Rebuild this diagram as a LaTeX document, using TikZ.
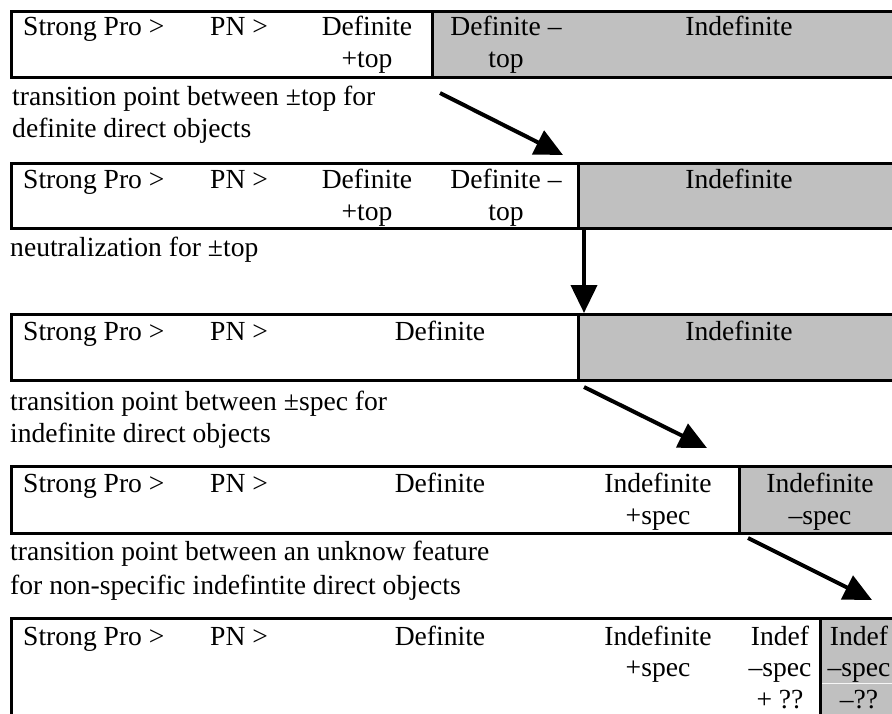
\documentclass[tikz,border=0pt]{standalone}
\usepackage{fontspec}
\setmainfont{Liberation Serif}
\usetikzlibrary{arrows.meta}
\definecolor{cellgrey}{HTML}{C0C0C0}
\tikzset{
  rowbox/.style={draw=black, line width=3pt},
  txt/.style={anchor=base, inner sep=0pt, font=\fontsize{27.6}{32}\selectfont},
  note/.style={txt, anchor=base west},
  shiftarrow/.style={-{Triangle[length=28pt,width=26pt]}, line width=4pt}
}

\begin{document}
\begin{tikzpicture}[x=1pt,y=-1pt]
  \useasboundingbox (0,0) rectangle (892,713);
  \clip (0,0) rectangle (892,713);

  % Grey cells
  \fill[cellgrey] (432,11) rectangle (900,77);
  \fill[cellgrey] (578,163) rectangle (900,228);
  \fill[cellgrey] (578,314) rectangle (900,380);
  \fill[cellgrey] (739,466) rectangle (900,533);
  \fill[cellgrey] (820,618) rectangle (900,730);
  \draw[white!85!cellgrey, line width=1pt] (820,683) -- (900,683);

  % Row frames and splits
  \foreach \top/\bot/\split in {11/77/432, 163/228/578, 314/380/578, 466/533/739, 618/730/820} {
    \draw[rowbox] (11.5,\top) rectangle (900,\bot);
    \draw[rowbox] (\split,\top) -- (\split,\bot);
  }

  % Left part of every row
  \foreach \r/\b in {1/35, 2/188, 3/340, 4/492, 5/645} {
    \node[note] (sp\r) at (23,\b) {Strong Pro >};
    \node[note] (pn\r) at (210,\b) {PN >};
  }

  % Row 1
  \node[txt] (def1) at (367,35) {Definite};
  \node[txt] (deft1) at (367,67) {+top};
  \node[txt] (defm1) at (506,35) {Definite –};
  \node[txt] (defmt1) at (506,67) {top};
  \node[txt] (ind1) at (739,35) {Indefinite};
  \node[note] (cap1a) at (12,105) {transition point between ±top for};
  \node[note] (cap1b) at (12,137) {definite direct objects};

  % Row 2
  \node[txt] (def2) at (367,188) {Definite};
  \node[txt] (deft2) at (367,220) {+top};
  \node[txt] (defm2) at (506,188) {Definite –};
  \node[txt] (defmt2) at (506,220) {top};
  \node[txt] (ind2) at (739,188) {Indefinite};
  \node[note] (cap2) at (10,256) {neutralization for ±top};

  % Row 3
  \node[txt] (def3) at (440,340) {Definite};
  \node[txt] (ind3) at (739,340) {Indefinite};
  \node[note] (cap3a) at (10,410) {transition point between ±spec for};
  \node[note] (cap3b) at (10,442) {indefinite direct objects};

  % Row 4
  \node[txt] (def4) at (440,492) {Definite};
  \node[txt] (inp4) at (658,492) {Indefinite};
  \node[txt] (inpt4) at (658,524) {+spec};
  \node[txt] (inm4) at (820,492) {Indefinite};
  \node[txt] (inmt4) at (820,524) {–spec};
  \node[note] (cap4a) at (10,560) {transition point between an unknow feature};
  \node[note] (cap4b) at (10,594) {for non-specific indefintite direct objects};

  % Row 5
  \node[txt] (def5) at (440,645) {Definite};
  \node[txt] (inp5) at (658,645) {Indefinite};
  \node[txt] (inpt5) at (658,676) {+spec};
  \node[txt] (ia5) at (780,645) {Indef};
  \node[txt] (ib5) at (780,676) {–spec};
  \node[txt] (ic5) at (780,708) {+ ??};
  \node[txt] (ja5) at (859,645) {Indef};
  \node[txt] (jb5) at (859,676) {–spec};
  \node[txt] (jc5) at (859,708) {–??};

  % Arrows
  \coordinate (a1s) at (440,93);   \coordinate (a1e) at (563,155);
  \coordinate (a2s) at (584,230);  \coordinate (a2e) at (584,313);
  \coordinate (a3s) at (584,387);  \coordinate (a3e) at (707,448);
  \coordinate (a4s) at (748,538);  \coordinate (a4e) at (872,600);
  \draw[shiftarrow] (a1s) -- (a1e);
  \draw[shiftarrow] (a2s) -- (a2e);
  \draw[shiftarrow] (a3s) -- (a3e);
  \draw[shiftarrow] (a4s) -- (a4e);
\end{tikzpicture}
\end{document}
